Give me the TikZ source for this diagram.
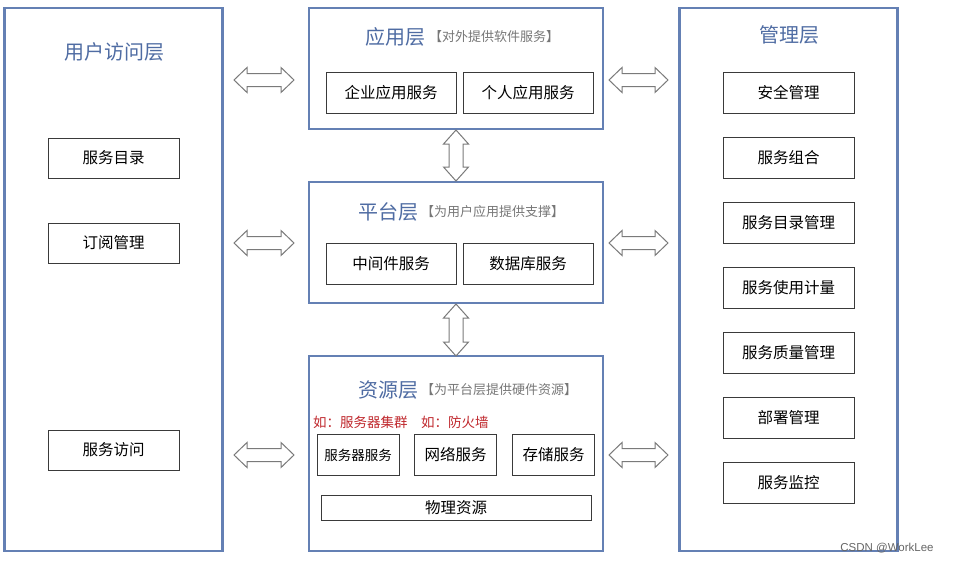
\documentclass[tikz,border=0pt]{standalone}
\usepackage{fontspec}
\setmainfont{Noto Sans CJK SC}
\newfontfamily\wmfont{Liberation Sans}
\definecolor{layerblue}{HTML}{6480B4}
\definecolor{titleblue}{HTML}{4F6CA3}
\definecolor{subgray}{HTML}{777777}
\definecolor{boxline}{HTML}{3A3A3A}
\definecolor{arrowgray}{HTML}{7A7A7A}
\definecolor{noteRed}{HTML}{C0282D}
\tikzset{
  layer/.style={draw=layerblue, line width=2.1pt, fill=white, inner sep=0pt},
  itembox/.style={draw=boxline, line width=1pt, fill=white, inner sep=0pt,
    font=\fontsize{15.5}{15.5}\selectfont, text=black},
  ltitle/.style={text=titleblue, font=\fontsize{20}{20}\selectfont, inner sep=0pt},
  lsub/.style={text=subgray, font=\fontsize{13}{13}\selectfont, inner sep=0pt},
  note/.style={text=noteRed, font=\fontsize{13.5}{14}\selectfont, inner sep=0pt},
  dblarrow/.style={draw=arrowgray, line width=1pt, fill=white, line join=miter},
}
\usetikzlibrary{calc}
% horizontal double arrow between two named coordinates (same y)
\newcommand{\hdarrow}[2]{%
  \draw[dblarrow] (#1) -- ++(13,-12.5) -- ++(0,6) -- ($(#2)+(-13,-6.5)$) -- ++(0,-6) -- (#2)
    -- ++(-13,12.5) -- ++(0,-6) -- ($(#1)+(13,6.5)$) -- ++(0,6) -- cycle;}
% vertical double arrow between two named coordinates (same x)
\newcommand{\vdarrow}[2]{%
  \draw[dblarrow] (#1) -- ++(12.5,14) -- ++(-5.5,0) -- ($(#2)+(7,-14)$) -- ++(5.5,0) -- (#2)
    -- ++(-12.5,-14) -- ++(5.5,0) -- ($(#1)+(-7,14)$) -- ++(-5.5,0) -- cycle;}
\begin{document}
\begin{tikzpicture}[x=1pt,y=-1pt]
\useasboundingbox[fill=white] (0,0) rectangle (954,562);

% ---------- left: user access layer ----------
\node[layer, minimum width=218pt, minimum height=543pt] (user) at (113.5,279.5) {};
\node[ltitle] (usertitle) at (114,52) {用户访问层};
\node[itembox, minimum width=131pt, minimum height=40pt] (u1) at (113.5,158) {服务目录};
\node[itembox, minimum width=131pt, minimum height=40pt] (u2) at (113.5,243) {订阅管理};
\node[itembox, minimum width=131pt, minimum height=40pt] (u3) at (113.5,450) {服务访问};

% ---------- middle: application layer ----------
\node[layer, minimum width=294pt, minimum height=121pt] (app) at (456,68.5) {};
\node[ltitle] (apptitle) at (395,37) {应用层};
\node[lsub, anchor=west] (appsub) at (429,37) {【对外提供软件服务】};
\node[itembox, minimum width=130pt, minimum height=41pt] (a1) at (391,92.5) {企业应用服务};
\node[itembox, minimum width=130pt, minimum height=41pt] (a2) at (528,92.5) {个人应用服务};

% ---------- middle: platform layer ----------
\node[layer, minimum width=294pt, minimum height=121pt] (plat) at (456,242.5) {};
\node[ltitle] (plattitle) at (388,212) {平台层};
\node[lsub, anchor=west] (platsub) at (421,212) {【为用户应用提供支撑】};
\node[itembox, minimum width=130pt, minimum height=41pt] (p1) at (391,263.5) {中间件服务};
\node[itembox, minimum width=130pt, minimum height=41pt] (p2) at (528,263.5) {数据库服务};

% ---------- middle: resource layer ----------
\node[layer, minimum width=294pt, minimum height=195pt] (res) at (456,453.5) {};
\node[ltitle] (restitle) at (388,390) {资源层};
\node[lsub, anchor=west] (ressub) at (421,390) {【为平台层提供硬件资源】};
\node[note, anchor=west] (n1) at (313,422) {如：服务器集群};
\node[note, anchor=west] (n2) at (421,422) {如：防火墙};
\node[itembox, minimum width=82pt, minimum height=41pt, font=\fontsize{13.5}{14}\selectfont] (r1) at (358,455) {服务器服务};
\node[itembox, minimum width=82pt, minimum height=41pt] (r2) at (455.5,455) {网络服务};
\node[itembox, minimum width=82pt, minimum height=41pt] (r3) at (553.5,455) {存储服务};
\node[itembox, minimum width=270pt, minimum height=25pt] (r4) at (456,507.5) {物理资源};

% ---------- right: management layer ----------
\node[layer, minimum width=218pt, minimum height=543pt] (mgmt) at (788.5,279.5) {};
\node[ltitle] (mgmttitle) at (789,35) {管理层};
\foreach \t [count=\i] in {安全管理,服务组合,服务目录管理,服务使用计量,服务质量管理,部署管理,服务监控}{
  \node[itembox, minimum width=131pt, minimum height=41pt] (m\i) at (788.5,{92.5+65*(\i-1)}) {\t};
}

% ---------- arrows ----------
\coordinate (la1) at (234,80);
\coordinate (lb1) at (294,80);
\coordinate (la2) at (234,243);
\coordinate (lb2) at (294,243);
\coordinate (la3) at (234,455);
\coordinate (lb3) at (294,455);
\coordinate (ra1) at (609,80);
\coordinate (rb1) at (668,80);
\coordinate (ra2) at (609,243);
\coordinate (rb2) at (668,243);
\coordinate (ra3) at (609,455);
\coordinate (rb3) at (668,455);
\coordinate (va1) at (456,130);
\coordinate (vb1) at (456,181);
\coordinate (va2) at (456,304);
\coordinate (vb2) at (456,356);
\hdarrow{la1}{lb1}
\hdarrow{la2}{lb2}
\hdarrow{la3}{lb3}
\hdarrow{ra1}{rb1}
\hdarrow{ra2}{rb2}
\hdarrow{ra3}{rb3}
\vdarrow{va1}{vb1}
\vdarrow{va2}{vb2}

% ---------- watermark ----------
\node[text=black!60, font=\wmfont\fontsize{11.5}{11.5}\selectfont, inner sep=0pt] (wm) at (887,548) {CSDN @WorkLee};
\end{tikzpicture}
\end{document}
